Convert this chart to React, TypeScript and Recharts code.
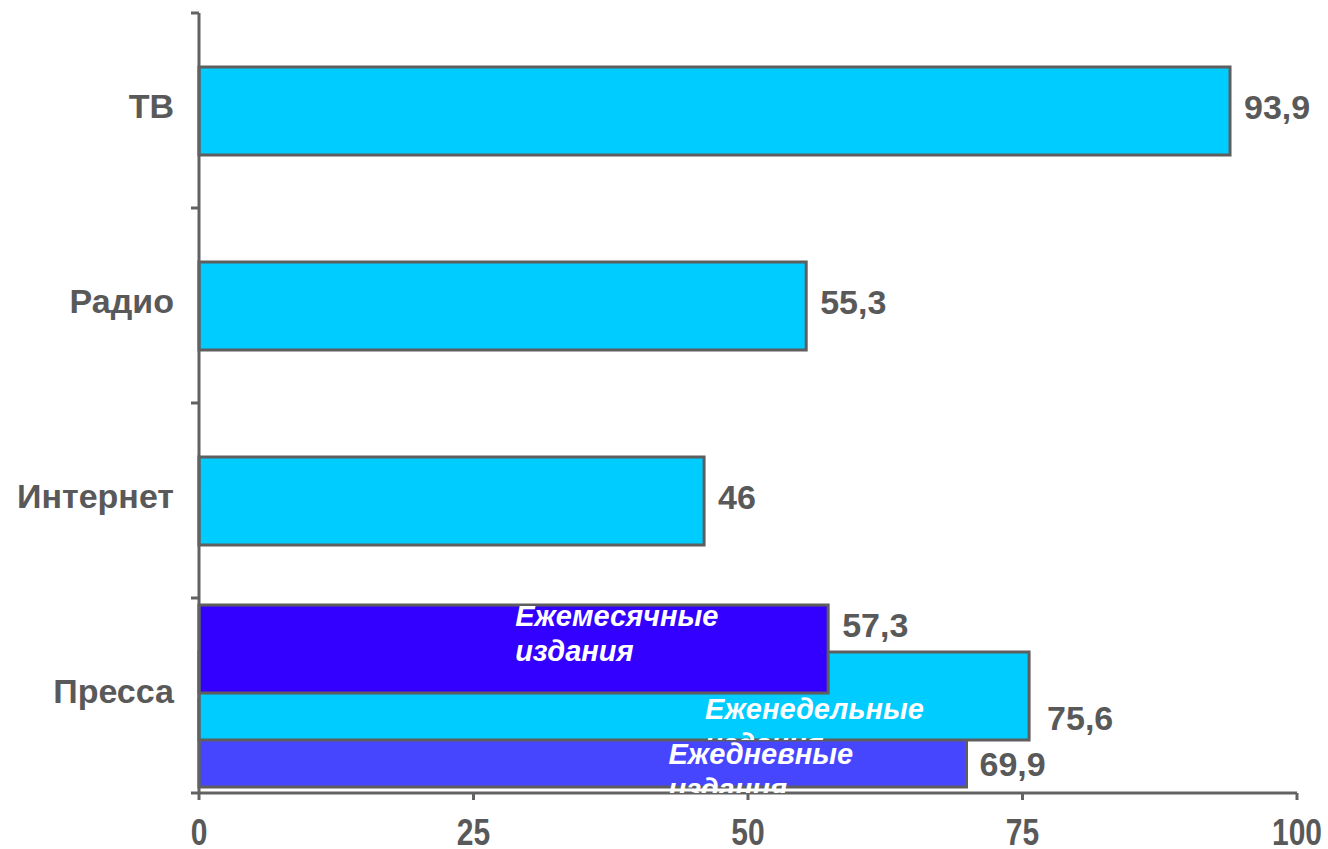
import React from 'react';
import { BarChart, Bar, XAxis, YAxis, LabelList } from 'recharts';

// ---- data -------------------------------------------------------------
const categories = ['ТВ', 'Радио', 'Интернет', 'Пресса'];
const overallReach: (number | null)[] = [93.9, 55.3, 46, null];
const dailyPress: (number | null)[] = [null, null, null, 69.9];
const weeklyPress: (number | null)[] = [null, null, null, 75.6];
const monthlyPress: (number | null)[] = [null, null, null, 57.3];
const xTicks = [0, 25, 50, 75, 100];
const dailyTitle = ['Ежедневные', 'издания'];
const weeklyTitle = ['Еженедельные', 'издания'];
const monthlyTitle = ['Ежемесячные', 'издания'];

const rows = categories.map((name, i) => ({
  name,
  reach: overallReach[i],
  daily: dailyPress[i],
  weekly: weeklyPress[i],
  monthly: monthlyPress[i],
}));

// ---- look -------------------------------------------------------------
const W = 1328;
const H = 849;
const FONT = '"Liberation Sans", Arial, Helvetica, sans-serif';
const TEXT = '#595959';
const AXIS = '#626262';
const EDGE = '#5e5e5e';
const CYAN = '#00CCFF';
const VIOLET = '#3300FF';
const BLUE = '#4646FF';
const Y_AXIS_WIDTH = 191;
const MARGIN = { top: 13, right: 31, bottom: 0, left: 8 };
const PLOT_LEFT = MARGIN.left + Y_AXIS_WIDTH;

const fmt = (v: number) => String(v).replace('.', ',');

const boxOf = (p: any) => {
  const vb = p.viewBox && p.viewBox.width !== undefined ? p.viewBox : p;
  return { x: Number(vb.x), y: Number(vb.y), width: Number(vb.width), height: Number(vb.height) };
};

// value to the right of a bar; baseline either from the bar centre or from its top
const valueLabel = (dx: number, fromTop: number | null) => (p: any) => {
  if (p.value == null) return null;
  const b = boxOf(p);
  if (!b.width) return null;
  const y = fromTop == null ? b.y + b.height / 2 + 8 : b.y + fromTop;
  return (
    <text x={b.x + b.width + dx} y={y} fill={TEXT} fontSize={34} fontWeight="bold" fontFamily={FONT}>
      {fmt(Number(p.value))}
    </text>
  );
};

// white italic caption inside a press bar, clipped to the bar
const titleLabel = (id: string, lines: string[], dxFromEnd: number, fromTop: number, clipExtra: number) => (p: any) => {
  if (p.value == null) return null;
  const b = boxOf(p);
  if (!b.width) return null;
  const tx = b.x + b.width + dxFromEnd;
  const ty = b.y + fromTop;
  const clipId = `caption-clip-${id}`;
  return (
    <g>
      <defs>
        <clipPath id={clipId}>
          <rect x={b.x} y={b.y} width={b.width + 40} height={b.height + clipExtra} />
        </clipPath>
      </defs>
      <text
        clipPath={`url(#${clipId})`}
        fill="#ffffff"
        fontSize={29}
        fontWeight="bold"
        fontStyle="italic"
        fontFamily={FONT}
      >
        {lines.map((l, i) => (
          <tspan key={i} x={tx} y={ty + i * 35}>
            {l}
          </tspan>
        ))}
      </text>
    </g>
  );
};

const CategoryTick = (p: any) => {
  const { y, payload, index } = p;
  const half = payload && payload.offset ? payload.offset : 97.5;
  const last = index === categories.length - 1;
  return (
    <g>
      <line x1={PLOT_LEFT - 8} x2={PLOT_LEFT} y1={y - half} y2={y - half} stroke={AXIS} strokeWidth={3} />
      {last && <line x1={PLOT_LEFT - 8} x2={PLOT_LEFT} y1={y + half} y2={y + half} stroke={AXIS} strokeWidth={3} />}
      <text x={PLOT_LEFT - 25} y={y + 7} textAnchor="end" fill={TEXT} fontSize={34} fontWeight="bold" fontFamily={FONT}>
        {payload.value}
      </text>
    </g>
  );
};

const ValueTick = (p: any) => {
  const { x, y, payload } = p;
  return (
    <text
      transform={`translate(${x},${y + 43}) scale(1,1.25)`}
      textAnchor="middle"
      fill={TEXT}
      fontSize={30}
      fontWeight="bold"
      fontFamily={FONT}
    >
      {payload.value}
    </text>
  );
};

export default function App() {
  return (
    <div style={{ position: 'fixed', left: 0, top: 0, width: W, height: H, background: '#ffffff' }}>
      <BarChart width={W} height={H} data={rows} layout="vertical" margin={MARGIN} barGap={-135}>
        <XAxis
          type="number"
          domain={[0, 100]}
          ticks={xTicks}
          interval={0}
          height={56}
          tickSize={7}
          tickMargin={2}
          axisLine={{ stroke: AXIS, strokeWidth: 3 }}
          tickLine={{ stroke: AXIS, strokeWidth: 3 }}
          tick={<ValueTick />}
        />
        <YAxis
          yAxisId="main"
          type="category"
          dataKey="name"
          width={Y_AXIS_WIDTH}
          axisLine={{ stroke: AXIS, strokeWidth: 3 }}
          tickLine={false}
          tickSize={8}
          tickMargin={18}
          interval={0}
          tick={<CategoryTick />}
        />
        <YAxis yAxisId="press" type="category" dataKey="name" hide />

        <Bar yAxisId="main" dataKey="reach" fill={CYAN} stroke={EDGE} strokeWidth={3} barSize={88} isAnimationActive={false}>
          <LabelList dataKey="reach" content={valueLabel(14, null)} />
        </Bar>

        <Bar yAxisId="press" dataKey="daily" fill={BLUE} stroke={EDGE} strokeWidth={3} barSize={88} isAnimationActive={false}>
          <LabelList dataKey="daily" content={titleLabel('daily', dailyTitle, -298, 65, 6)} />
          <LabelList dataKey="daily" content={valueLabel(13, 77)} />
        </Bar>
        <Bar yAxisId="press" dataKey="weekly" fill={CYAN} stroke={EDGE} strokeWidth={3} barSize={88} isAnimationActive={false}>
          <LabelList dataKey="weekly" content={titleLabel('weekly', weeklyTitle, -324, 67, 0)} />
          <LabelList dataKey="weekly" content={valueLabel(18, 78)} />
        </Bar>
        <Bar yAxisId="press" dataKey="monthly" fill={VIOLET} stroke={EDGE} strokeWidth={3} barSize={88} isAnimationActive={false}>
          <LabelList dataKey="monthly" content={titleLabel('monthly', monthlyTitle, -313, 21, 0)} />
          <LabelList dataKey="monthly" content={valueLabel(14, 32)} />
        </Bar>
      </BarChart>
    </div>
  );
}
